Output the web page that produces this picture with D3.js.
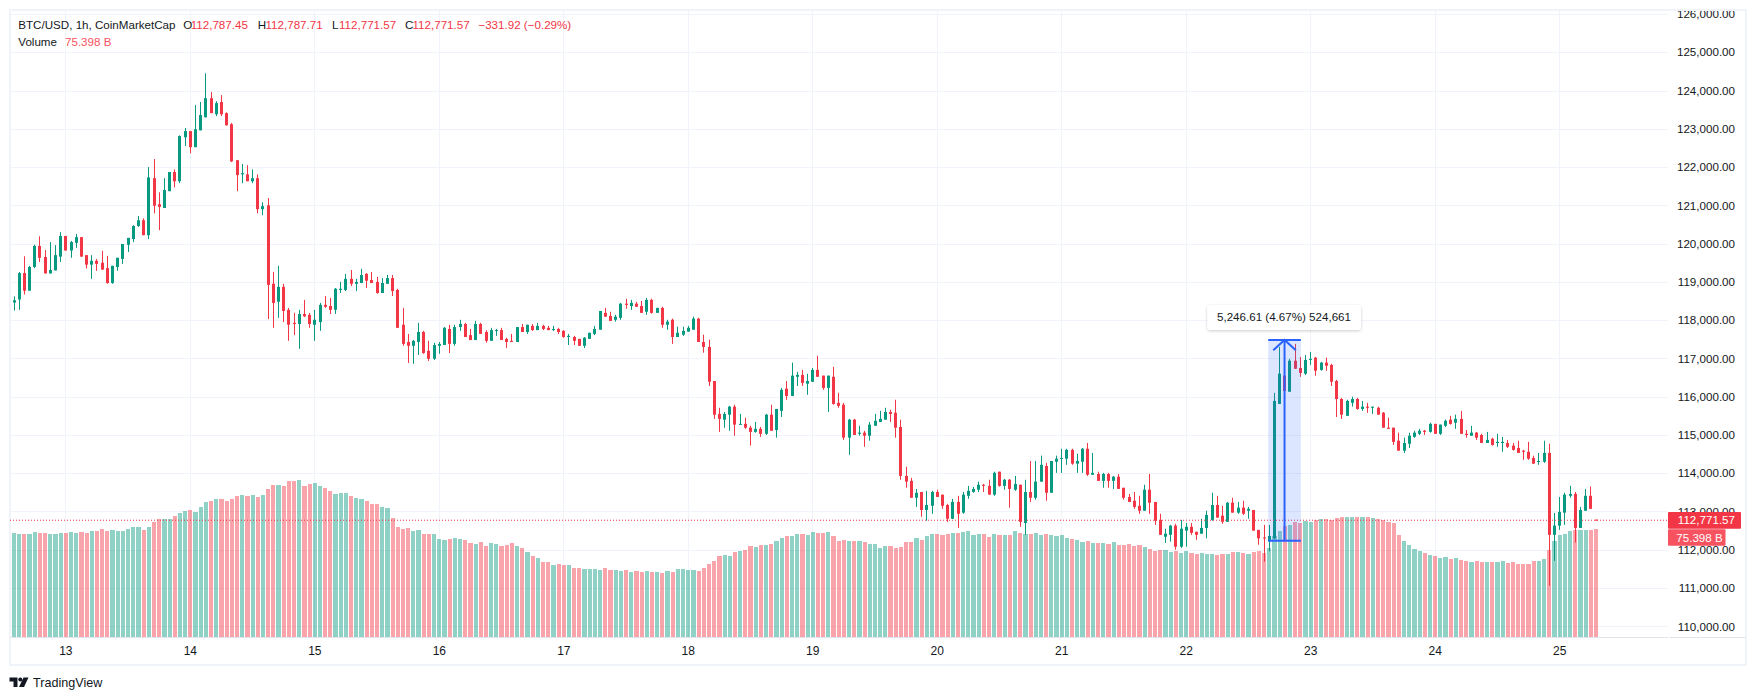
<!DOCTYPE html>
<html>
<head>
<meta charset="utf-8">
<title>BTC/USD, 1h</title>
<script src="https://cdn.jsdelivr.net/npm/d3@7"></script>
<style>
    body { margin: 0; background: #fff; }
    text { font-family: "Liberation Sans", sans-serif; }
</style>
</head>
<body>
<svg id="chart" width="1756" height="700"></svg>
<script>
const opens = [
    118460,118540,119230,118770,119390,119940,119650,119220,119300,119660,
    120200,119820,120020,120170,119700,119450,119550,119500,119360,118970,
    119390,119600,119970,120120,120460,120610,120220,121710,121030,120930,
    121370,121870,121630,122780,122940,122520,122960,123300,123800,123380,
    123700,123410,123120,122180,121810,121810,121630,121710,120900,121000,
    118950,118480,118870,118270,117930,117900,118160,118140,117880,117950,
    118400,118370,118270,118790,118790,119080,118950,118970,119210,119050,
    119000,118710,118950,119100,118790,117880,117430,117330,117430,117690,
    117200,116990,117330,117350,117770,117380,117820,117900,117610,117480,
    117900,117690,117460,117720,117740,117510,117460,117430,117820,117690,
    117850,117740,117850,117800,117740,117770,117720,117560,117560,117510,
    117330,117510,117640,117750,118190,118110,118010,118060,118430,118370,
    118430,118370,118220,118530,118190,118320,117880,118010,117560,117620,
    117700,117750,118040,117430,117300,116410,115550,115400,115530,115740,
    115270,115290,115190,115080,115160,115030,115530,115130,115630,116210,
    116020,116520,116570,116340,116390,116700,116550,116230,116520,115840,
    115790,114930,115400,115030,115060,114980,115240,115340,115400,115600,
    115580,115210,113930,113800,113360,113510,113040,113150,113510,113440,
    113170,112810,113250,112970,113410,113510,113570,113700,113670,113440,
    114040,113670,113830,113570,113700,112700,113510,113360,113780,114190,
    113490,114300,114380,114380,114610,114250,114300,114640,113960,113980,
    113800,113980,113800,113910,113620,113380,113280,113150,113020,113570,
    113250,112780,112340,112390,112630,112080,112500,112600,112470,112420,
    112570,112780,113170,112890,112730,113230,112970,113100,113020,113040,
    112520,112320,112220,112300,115810,116550,116130,116940,116750,116600,
    116960,117020,116700,116890,116830,116410,115940,115500,115840,115940,
    115680,115740,115710,115710,115580,115190,115190,114850,114590,114770,
    114950,115030,115110,115080,115290,115030,115240,115400,115320,115420,
    115030,114980,115060,115000,114790,114900,114790,114790,114790,114720,
    114660,114590,114560,114400,114300,114300,114530,112390,112630,112970,
    113410,113460,112570,113020,113410,112787.45
]
const highs = [
    118620,119260,119670,119420,119970,120190,119830,120040,119960,120300,
    120200,120070,120250,120170,119700,119700,119600,119810,119680,119420,
    119630,119990,120150,120480,120720,120660,122000,122210,121340,121710,
    121870,121940,122830,123020,122940,123620,123700,124450,123960,123720,
    123880,123430,123150,122180,122080,122050,121940,121810,121080,121190,
    119260,119420,118950,118320,118190,118270,118530,118190,118270,118450,
    118630,118580,118840,119000,119210,119310,119080,119340,119230,119260,
    119130,119100,119180,119180,118820,118320,117640,117480,117930,117720,
    117460,117410,117430,117820,117880,117880,118010,117930,117770,117980,
    117930,117740,117800,117770,117800,117540,117640,117820,117900,117880,
    117900,117930,117880,117850,117850,117800,117740,117640,117590,117510,
    117560,117670,117850,118240,118320,118220,118140,118450,118560,118530,
    118480,118500,118580,118560,118320,118350,118010,118040,117830,117830,
    117850,118090,118060,117620,117490,116410,115710,115600,115760,115790,
    115550,115450,115240,115340,115210,115550,115790,115680,116230,116410,
    116890,116650,116700,116600,116750,117070,116550,116550,116780,116100,
    115840,115420,115420,115240,115110,115340,115550,115630,115710,115660,
    115920,115400,114170,113880,113590,113510,113540,113540,113570,113440,
    113200,113330,113410,113510,113670,113640,113780,113720,113830,114040,
    114040,113850,113850,113930,113700,113830,114320,114320,114460,114270,
    114320,114460,114640,114640,114640,114510,114660,114790,114530,114040,
    114010,114010,113930,113980,113620,113460,113510,113410,113700,113980,
    113250,112940,112550,112650,112680,112780,112700,112700,112470,112810,
    113020,113490,113410,113150,113250,113360,113250,113280,113120,113040,
    112520,112650,112650,116100,117300,116780,116990,117380,117040,117090,
    117170,117040,116910,117020,116860,116440,115970,115920,116000,115970,
    115890,115840,115740,115740,115600,115450,115190,115060,114930,115060,
    115110,115160,115130,115320,115290,115270,115400,115500,115530,115630,
    115130,115240,115080,115030,115080,114930,115030,114950,114870,114790,
    114850,114610,114820,114460,114530,114850,114770,112960,113380,113490,
    113670,113510,113120,113590,113650,112787.71
]
const lows = [
    118250,118270,118670,118770,119360,119520,119220,119220,119300,119520,
    119820,119630,119890,119660,119350,119080,119290,119320,118950,118950,
    119290,119470,119780,120040,120440,120220,120120,120790,120350,120930,
    121370,121470,121580,122550,122360,122520,122960,123300,123410,123330,
    123330,123090,122130,121370,121580,121630,121580,120790,120740,118030,
    117800,118060,117950,117460,117610,117250,118080,117800,117460,117720,
    118320,118160,118160,118710,118760,118890,118760,118970,118840,118970,
    118690,118710,118950,118630,117800,117330,116880,116860,117090,117120,
    116930,116960,117120,117350,117140,117330,117720,117560,117480,117480,
    117640,117410,117460,117590,117480,117270,117430,117430,117690,117640,
    117720,117740,117740,117740,117720,117640,117540,117350,117350,117330,
    117270,117510,117610,117750,118090,117980,117960,118010,118300,118270,
    118350,118190,118140,118170,118190,117800,117750,117380,117560,117590,
    117700,117750,117430,117150,116280,115420,115080,115190,115110,114980,
    115270,115160,114720,115060,114950,115000,115110,114930,115470,115920,
    116020,116280,116280,116050,116390,116520,116180,115600,115790,115710,
    114870,114480,115000,114980,114690,114850,115240,115340,115400,115340,
    114930,113830,113620,113360,113120,112860,112760,112940,113380,113070,
    112730,112810,112570,112940,113330,113490,113510,113510,113440,113410,
    113650,113570,113100,113540,112600,112390,113250,113310,113780,113280,
    113490,114010,114010,114220,114220,114010,114010,113930,113960,113800,
    113620,113620,113590,113590,113310,113250,113070,112940,113020,112940,
    112650,112390,112180,112210,112000,112050,112080,112390,112260,112420,
    112300,112760,112840,112680,112730,112970,112940,112910,112810,112500,
    112130,111690,111960,112280,115810,116150,116130,116730,116520,116570,
    116830,116550,116680,116680,116280,115470,115420,115500,115740,115660,
    115630,115580,115550,115530,115190,115160,114740,114590,114530,114660,
    114930,115000,115000,115060,115030,115000,115210,115270,115160,115030,
    114930,114980,114870,114790,114790,114720,114690,114560,114660,114590,
    114530,114350,114350,114250,114220,114270,111060,111710,112520,112650,
    113360,112190,112570,113020,113070,112771.57
]
const closes = [
    118520,119230,118770,119390,119940,119630,119220,119310,119700,120200,
    119820,120040,120170,119660,119450,119550,119470,119320,118970,119420,
    119630,119990,120150,120460,120610,120220,121730,120990,120960,121400,
    121870,121630,122810,122940,122520,122990,123360,123800,123410,123670,
    123380,123090,122150,121790,121840,121630,121710,120900,120980,118920,
    118450,118870,118240,117880,117900,118160,118100,117900,118010,118400,
    118350,118270,118820,118820,119080,118950,119000,119180,119030,118970,
    118710,118970,119100,118760,117800,117380,117330,117460,117690,117140,
    116990,117350,117380,117800,117380,117820,117900,117560,117480,117900,
    117640,117460,117740,117740,117480,117430,117430,117820,117690,117880,
    117740,117850,117770,117740,117770,117690,117560,117590,117460,117330,
    117540,117670,117770,118240,118090,117980,118090,118430,118400,118450,
    118350,118190,118530,118190,118320,117880,117960,117560,117670,117720,
    117800,118040,117430,117300,116390,115530,115420,115550,115740,115270,
    115290,115190,115080,115160,115030,115530,115110,115680,116180,116020,
    116550,116570,116360,116410,116700,116520,116230,116550,115810,115760,
    114930,115400,115000,115060,114980,115270,115370,115420,115600,115550,
    115190,113930,113780,113360,113490,113040,113170,113510,113380,113150,
    112810,113250,112940,113440,113540,113590,113700,113670,113440,114010,
    113670,113830,113590,113720,112730,113510,113360,113780,114220,113490,
    114320,114380,114400,114610,114250,114320,114640,113960,114010,113800,
    113980,113800,113910,113590,113360,113250,113120,113020,113570,113230,
    112760,112390,112420,112630,112080,112550,112600,112440,112390,112570,
    112910,113170,112840,112730,113230,112970,113100,112940,113070,112500,
    112300,112300,112360,115890,116600,116150,116940,116730,116620,116960,
    116990,116680,116890,116810,116390,115940,115530,115890,115940,115680,
    115740,115710,115740,115530,115190,115160,114820,114590,114790,114980,
    115060,115110,115080,115290,115030,115270,115370,115290,115420,115030,
    115000,115060,114930,114790,114870,114740,114820,114820,114690,114610,
    114530,114560,114380,114250,114320,114530,112390,112630,112990,113440,
    113460,112570,113040,113410,113070,112771.57
]
// volume in billions
const volumes = [
    72.8,72.1,72.1,72.1,73.5,72.8,72.8,72.1,72.1,72.8,
    72.8,73.5,72.8,73.5,72.8,74.2,74.2,75.6,74.2,74.9,
    74.2,74.2,75.6,77.0,77.0,74.9,77.0,80.5,82.6,82.6,
    82.6,84.7,86.8,88.2,88.9,87.5,90.9,94.4,95.1,96.5,
    96.5,95.1,96.5,98.6,99.3,98.6,99.3,97.9,99.3,103.5,
    106.3,106.3,105.6,109.1,109.1,109.8,105.6,107.0,107.7,105.6,
    104.2,102.1,100.0,100.7,100.7,98.6,97.2,96.5,95.1,93.0,
    93.0,90.9,90.3,83.3,77.0,75.6,76.3,74.2,74.9,72.1,
    72.1,72.1,68.6,67.9,68.6,69.3,68.6,67.9,65.8,65.1,
    66.5,63.7,65.8,65.1,63.7,64.4,65.8,63.7,62.3,59.5,
    56.7,55.3,52.6,52.6,50.5,51.2,50.5,50.5,48.4,48.4,
    47.7,47.7,47.7,47.0,48.4,47.0,47.0,46.3,47.0,45.6,
    46.3,45.6,46.3,45.6,45.6,44.9,46.3,45.6,47.7,47.7,
    47.0,47.0,46.3,48.4,51.2,53.2,56.7,57.4,56.7,59.5,
    60.2,60.9,63.7,63.0,64.4,64.4,65.1,67.2,69.3,70.7,
    70.7,72.1,72.1,71.4,73.5,72.8,72.8,73.5,70.7,67.2,
    67.9,67.2,67.2,67.2,66.5,65.1,65.1,62.3,63.7,63.7,
    62.3,63.0,66.5,66.5,69.3,67.9,70.7,72.1,72.1,71.4,
    72.1,72.8,72.8,73.5,74.2,71.4,72.1,72.1,70.0,72.1,
    71.4,71.4,71.4,74.2,72.8,72.1,72.1,72.8,71.4,72.1,
    71.4,70.7,71.4,69.3,68.6,67.9,66.5,67.2,65.8,65.8,
    65.8,65.1,66.5,64.4,64.4,65.1,63.7,64.4,63.0,61.6,
    60.2,60.9,60.9,59.5,60.2,58.8,60.2,58.8,58.1,58.8,
    58.1,58.1,57.4,58.1,58.1,59.5,59.5,58.8,58.1,59.5,
    60.2,58.8,62.3,70.7,74.2,77.7,78.4,80.5,79.8,81.2,
    80.5,81.9,82.6,82.6,81.9,83.3,84.0,84.0,84.0,84.0,
    84.0,84.0,83.3,82.6,81.9,80.5,79.8,71.4,67.2,64.4,
    61.6,60.2,58.8,57.4,56.7,55.3,56.0,54.7,55.3,54.0,
    53.2,52.6,53.2,52.6,52.6,52.6,52.6,53.2,51.9,52.6,
    51.2,51.2,51.2,53.2,53.2,54.7,60.9,67.2,71.4,72.1,
    74.2,74.9,74.9,74.9,74.9,75.4
]

const priceTicks = d3.range(110000, 126001, 1000)
const dayLabels = ['13', '14', '15', '16', '17', '18', '19', '20', '21', '22', '23', '24', '25']
const dayBars = [10, 34, 58, 82, 106, 130, 154, 178, 202, 226, 250, 274, 298]

const lastPrice = 112771.57
const lastVolume = 75.398
const measureBars = [241.9, 248.2]
const measurePrices = [112237, 117483]

const green = '#089981'
const red = '#f23645'
const gridColor = '#f0f3fa'
const textColor = '#131722'
const fontSize = 11.6

const plotLeft = 10
const plotRight = 1668
const plotBottom = 637

const x = d3.scaleLinear().domain([0, 305]).range([13.5, 1595.5])
const y = d3.scaleLinear().domain([110000, 126000]).range([626.3, 14])
const yVol = d3.scaleLinear().domain([0, lastVolume]).range([plotBottom, 529.3])
const price = d3.format(',.2f')

const svg = d3.select('#chart')
const bars = d3.range(closes.length)
const isUp = i => closes[i] >= opens[i]

// frame
svg.append('rect')
    .attr('x', 10)
    .attr('y', 10)
    .attr('width', 1736)
    .attr('height', 655)
    .attr('fill', 'none')
    .attr('stroke', gridColor)
    .attr('stroke-width', 2)

// grid
svg.append('g')
    .selectAll('line')
    .data(priceTicks)
    .enter()
    .append('line')
    .attr('x1', plotLeft)
    .attr('x2', plotRight)
    .attr('y1', d => Math.round(y(d)) + 0.5)
    .attr('y2', d => Math.round(y(d)) + 0.5)
    .attr('stroke', gridColor)

svg.append('g')
    .selectAll('line')
    .data(dayBars)
    .enter()
    .append('line')
    .attr('x1', d => Math.round(x(d)) + 0.5)
    .attr('x2', d => Math.round(x(d)) + 0.5)
    .attr('y1', 11)
    .attr('y2', plotBottom)
    .attr('stroke', gridColor)

// volume, one pixel gap between bars
svg.append('g')
    .selectAll('rect')
    .data(bars)
    .enter()
    .append('rect')
    .attr('x', i => Math.round(x(i - 0.5)) + 0.5)
    .attr('width', i => Math.round(x(i + 0.5)) - Math.round(x(i - 0.5)) - 1)
    .attr('y', i => yVol(volumes[i]))
    .attr('height', i => plotBottom - yVol(volumes[i]))
    .attr('fill', i => (isUp(i) ? green : red))
    .attr('fill-opacity', 0.45)
    .attr('shape-rendering', 'crispEdges')

// candles
const candle = svg.append('g')
    .selectAll('g')
    .data(bars)
    .enter()
    .append('g')
    .attr('fill', i => (isUp(i) ? green : red))

candle.append('rect')
    .attr('x', i => Math.round(x(i)))
    .attr('width', 1)
    .attr('y', i => y(highs[i]))
    .attr('height', i => y(lows[i]) - y(highs[i]))

candle.append('rect')
    .attr('x', i => Math.round(x(i)) - 1)
    .attr('width', 3)
    .attr('y', i => y(Math.max(opens[i], closes[i])))
    .attr('height', i => Math.max(1, Math.abs(y(opens[i]) - y(closes[i]))))

// last price line
svg.append('line')
    .attr('x1', plotLeft)
    .attr('x2', plotRight)
    .attr('y1', y(lastPrice))
    .attr('y2', y(lastPrice))
    .attr('stroke', red)
    .attr('stroke-dasharray', '1,2')

// axes
svg.selectAll('.axisLine')
    .data([[plotLeft, plotRight], [plotRight + 1.5, 1745]])
    .enter()
    .append('line')
    .attr('class', 'axisLine')
    .attr('x1', d => d[0])
    .attr('x2', d => d[1])
    .attr('y1', plotBottom + 0.5)
    .attr('y2', plotBottom + 0.5)
    .attr('stroke', '#e0e3eb')

svg.append('defs')
    .append('clipPath')
    .attr('id', 'priceClip')
    .append('rect')
    .attr('x', plotRight)
    .attr('y', 11)
    .attr('width', 77)
    .attr('height', plotBottom - 11)

const priceAxis = svg.append('g')
    .attr('clip-path', 'url(#priceClip)')
    .append('g')
    .attr('transform', 'translate(1735,0)')
    .call(d3.axisLeft(y).tickValues(priceTicks).tickSize(0).tickPadding(0).tickFormat(price))
priceAxis.select('.domain').remove()
priceAxis.selectAll('text')
    .style('font-family', '"Liberation Sans", sans-serif')
    .style('font-size', fontSize + 'px')
    .attr('fill', textColor)

const dayAxis = svg.append('g')
    .attr('transform', 'translate(0,' + plotBottom + ')')
    .call(d3.axisBottom(x).tickValues(dayBars).tickSize(0).tickPadding(9)
        .tickFormat((d, i) => dayLabels[i]))
dayAxis.select('.domain').remove()
dayAxis.selectAll('text')
    .style('font-family', '"Liberation Sans", sans-serif')
    .style('font-size', '12px')
    .attr('fill', textColor)

// value tags on the price axis
svg.append('rect')
    .attr('x', plotRight)
    .attr('y', y(lastPrice) - 8.3)
    .attr('width', 73)
    .attr('height', 16.7)
    .attr('rx', 1)
    .attr('fill', red)
svg.append('text')
    .attr('x', 1735)
    .attr('y', y(lastPrice) + 4)
    .attr('text-anchor', 'end')
    .attr('font-size', fontSize)
    .attr('fill', '#fff')
    .text(price(lastPrice))
svg.append('rect')
    .attr('x', plotRight)
    .attr('y', yVol(lastVolume))
    .attr('width', 57.5)
    .attr('height', 16.4)
    .attr('rx', 1)
    .attr('fill', '#f7525f')
svg.append('text')
    .attr('x', 1676.3)
    .attr('y', yVol(lastVolume) + 12.5)
    .attr('font-size', fontSize)
    .attr('fill', '#fff')
    .text(lastVolume + ' B')

// measure tool
const mx0 = x(measureBars[0])
const mx1 = x(measureBars[1])
const mxc = (mx0 + mx1) / 2
const mTop = y(measurePrices[1])
const mBottom = y(measurePrices[0])

svg.append('rect')
    .attr('x', mx0)
    .attr('y', mTop)
    .attr('width', mx1 - mx0)
    .attr('height', mBottom - mTop)
    .attr('fill', '#2962ff')
    .attr('fill-opacity', 0.16)

svg.append('path')
    .attr('d', d3.line()([[mxc, mBottom], [mxc, mTop]]))
    .attr('stroke', '#2962ff')
    .attr('stroke-width', 2)
svg.append('path')
    .attr('d', d3.line()([[mxc - 11.3, mTop + 10.3], [mxc, mTop], [mxc + 11.3, mTop + 10.3]]))
    .attr('fill', 'none')
    .attr('stroke', '#2962ff')
    .attr('stroke-width', 2)
svg.selectAll('.measureEdge')
    .data(measurePrices)
    .enter()
    .append('line')
    .attr('class', 'measureEdge')
    .attr('x1', mx0)
    .attr('x2', mx1)
    .attr('y1', d => y(d))
    .attr('y2', d => y(d))
    .attr('stroke', '#2962ff')
    .attr('stroke-width', 2)

const defs = svg.append('defs')
defs.append('filter')
    .attr('id', 'labelShadow')
    .attr('x', '-10%')
    .attr('y', '-30%')
    .attr('width', '120%')
    .attr('height', '170%')
    .append('feDropShadow')
    .attr('dx', 0)
    .attr('dy', 1)
    .attr('stdDeviation', 1.5)
    .attr('flood-color', '#000')
    .attr('flood-opacity', 0.2)

svg.append('rect')
    .attr('x', 1207.3)
    .attr('y', 305)
    .attr('width', 153.7)
    .attr('height', 25)
    .attr('rx', 3)
    .attr('fill', '#fff')
    .attr('filter', 'url(#labelShadow)')
svg.append('text')
    .attr('x', 1284)
    .attr('y', 321)
    .attr('text-anchor', 'middle')
    .attr('font-size', fontSize)
    .attr('textLength', 134)
    .attr('fill', textColor)
    .text('5,246.61 (4.67%) 524,661')

// legend
const legendTop = [
    ['BTC/USD, 1h, CoinMarketCap', 18.3, textColor],
    ['O', 183.3, textColor],
    ['112,787.45', 190.7, red],
    ['H', 257.7, textColor],
    ['112,787.71', 265.5, red],
    ['L', 332, textColor],
    ['112,771.57', 339, red],
    ['C', 405, textColor],
    ['112,771.57', 412.5, red],
    ['\u2212331.92 (\u22120.29%)', 478.4, red]
]
svg.append('g')
    .selectAll('text')
    .data(legendTop)
    .enter()
    .append('text')
    .attr('x', d => d[1])
    .attr('y', 29.2)
    .attr('font-size', fontSize)
    .attr('fill', d => d[2])
    .text(d => d[0])

svg.append('text')
    .attr('x', 18.3)
    .attr('y', 46)
    .attr('font-size', fontSize)
    .attr('fill', textColor)
    .text('Volume')
svg.append('text')
    .attr('x', 65)
    .attr('y', 46)
    .attr('font-size', fontSize)
    .attr('fill', '#f7525f')
    .text(lastVolume + ' B')

// TradingView mark
const logo = svg.append('g')
    .attr('transform', 'translate(9.5,677.5)')
    .attr('fill', textColor)
logo.append('path').attr('d', 'M0 0H8V9.5H4V4H0Z')
logo.append('circle').attr('cx', 10.8).attr('cy', 2).attr('r', 2)
logo.append('path').attr('d', 'M14 0H19L14.5 9.5H9.5Z')
svg.append('text')
    .attr('x', 33)
    .attr('y', 687)
    .attr('font-size', 12.6)
    .attr('fill', textColor)
    .text('TradingView')
</script>
</body>
</html>
